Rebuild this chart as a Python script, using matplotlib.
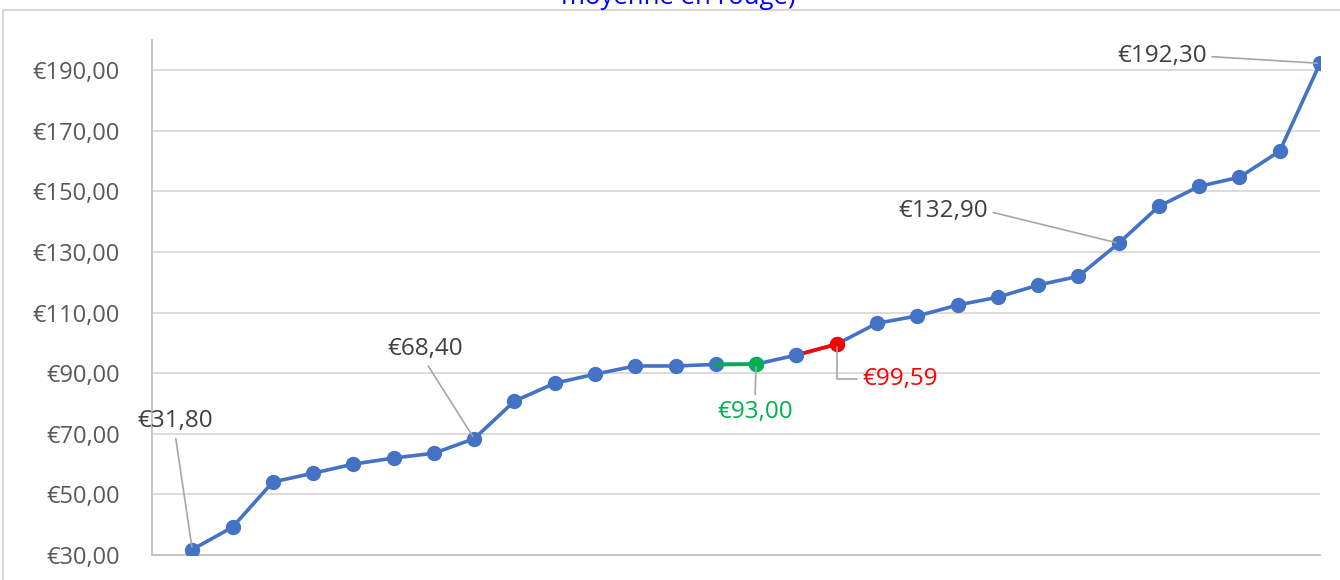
import matplotlib.pyplot as plt
from matplotlib.patches import Rectangle
from matplotlib.ticker import FuncFormatter

plt.rcParams['font.family'] = ['Open Sans', 'DejaVu Sans']

# sorted prices (median in green, mean in red)
prices = [31.80, 39.2, 54.1, 57.0, 60.0, 62.0, 63.6, 68.40, 80.8, 86.7,
          89.7, 92.4, 92.4, 92.9, 93.00, 96.0, 99.59, 106.5, 108.9, 112.5,
          115.1, 119.1, 122.0, 132.90, 145.1, 151.7, 154.7, 163.3, 192.30]
x = list(range(1, len(prices) + 1))
median_idx = 14   # 0-based index of the median point
mean_idx = 16     # 0-based index of the mean point
yticks = [30, 50, 70, 90, 110, 130, 150, 170, 190]
title_tail = "moyenne en rouge)"

BLUE = '#4472C4'
GREEN = '#00B050'
RED = '#FF0000'
GRID = '#d9d9d9'
TXT = '#404040'

def euro(v, pos=None):
    return '€' + f'{v:,.2f}'.replace(',', ' ').replace('.', ',')

fig = plt.figure(figsize=(13.4, 5.8), dpi=100)
fig.patches.append(Rectangle((3 / 1340, -0.1), 1.1, 1.1 - 10 / 580,
                             transform=fig.transFigure, fill=False,
                             edgecolor=GRID, lw=1.5))
# only the end of a wrapped title is visible, the rest is cut off at the top
fig.text(0.506, 0.993, title_tail, color='#0000FF', fontsize=18.5,
         ha='center', va='baseline')

ax = fig.add_axes([152 / 1340, 25 / 580, (1320 - 152) / 1340, 515 / 580])
ax.plot(x, prices, color=BLUE, lw=2.6, marker='o', ms=10, zorder=3)
ax.plot(x[median_idx - 1:median_idx + 1], prices[median_idx - 1:median_idx + 1],
        color=GREEN, lw=2.6, zorder=4)
ax.plot(x[median_idx], prices[median_idx], 'o', color=GREEN, ms=10, zorder=5)
ax.plot(x[mean_idx - 1:mean_idx + 1], prices[mean_idx - 1:mean_idx + 1],
        color=RED, lw=2.6, zorder=4)
ax.plot(x[mean_idx], prices[mean_idx], 'o', color=RED, ms=10, zorder=5)
ax.plot(x[mean_idx - 1], prices[mean_idx - 1], 'o', color=BLUE, ms=10, zorder=5)

ax.set_xlim(0, len(prices))
ax.set_ylim(30, 200)
ax.set_yticks(yticks)
ax.yaxis.set_major_formatter(FuncFormatter(euro))
ax.set_xticks([])
ax.grid(axis='y', color=GRID, lw=1.3)
ax.set_axisbelow(True)
for s in ['top', 'right']:
    ax.spines[s].set_visible(False)
for s in ['left', 'bottom']:
    ax.spines[s].set_color('#bfbfbf')
    ax.spines[s].set_linewidth(1.3)
ax.tick_params(axis='y', length=0, labelsize=17, labelcolor='#595959', pad=23)

# data labels with leader lines
lead = dict(arrowstyle='-', color='#a6a6a6', lw=1.2, shrinkA=2, shrinkB=2)
labels = [
    (0, (0.57, 74.2), TXT, 'center', (0.5, 0.0), 'arc3'),
    (7, (6.78, 98.0), TXT, 'center', (0.5, 0.0), 'arc3'),
    (14, (14.97, 77.2), GREEN, 'center', (0.5, 1.0), 'arc3'),
    (16, (17.65, 88.1), RED, 'left', (0.0, 0.5), 'angle,angleA=180,angleB=90,rad=0'),
    (23, (19.64, 143.5), TXT, 'center', (1.0, 0.5), 'arc3'),
    (28, (25.07, 194.6), TXT, 'center', (1.0, 0.5), 'arc3'),
]
for i, pos, col, ha, rel, conn in labels:
    ax.annotate(euro(prices[i]), xy=(x[i], prices[i]), xytext=pos,
                color=col, fontsize=17.5, ha=ha, va='center',
                arrowprops=dict(lead, relpos=rel, connectionstyle=conn),
                zorder=6)

fig.savefig('out.png', dpi=100)
